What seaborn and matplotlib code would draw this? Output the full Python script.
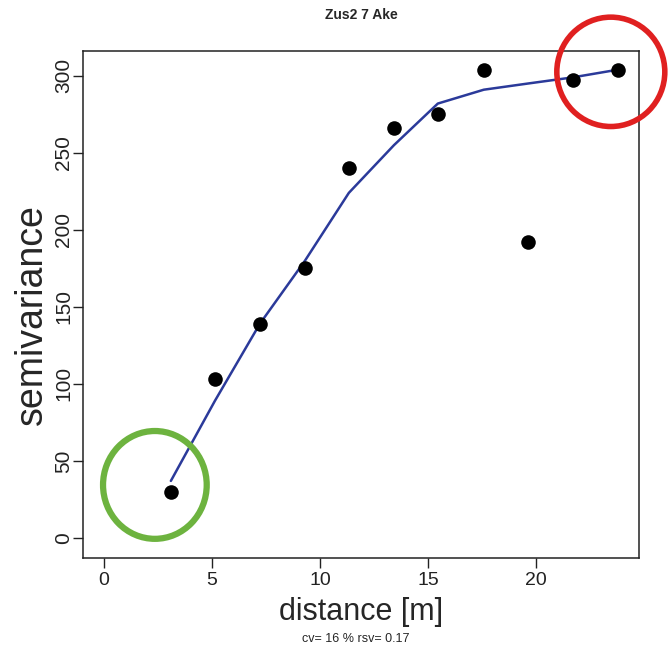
import matplotlib
matplotlib.use("Agg")
import matplotlib.pyplot as plt
from matplotlib.patches import Ellipse
import seaborn as sns
import pandas as pd

# lag distances (m) and empirical semivariance
distance = [3.1, 5.14, 7.22, 9.31, 11.34, 13.43, 15.46, 17.59, 19.63, 21.71, 23.8]
semivar = [29.5, 103, 139, 175, 240, 266, 275, 304, 192, 297, 304]
# fitted model at the same lags
model = [37, 89, 139, 180, 224, 255, 282, 291, 295, 299, 304]

x_ticks = [0, 5, 10, 15, 20]
y_ticks = [0, 50, 100, 150, 200, 250, 300]

sns.set_style("ticks")
plt.rcParams["font.family"] = ["Liberation Sans", "DejaVu Sans"]

df = pd.DataFrame({"distance": distance, "semivariance": semivar, "model": model})

fig = plt.figure(figsize=(6.69, 6.48), dpi=100)
ax = fig.add_axes([0.124, 0.139, 0.831, 0.782])

sns.lineplot(data=df, x="distance", y="model", ax=ax, color="#2b3a9a", lw=1.8, zorder=2)
sns.scatterplot(data=df, x="distance", y="semivariance", ax=ax, color="black",
                s=110, edgecolor="black", linewidth=0, zorder=3)

ax.set_xlim(-0.97, 24.77)
ax.set_ylim(-13, 316)
ax.set_xticks(x_ticks)
ax.set_yticks(y_ticks)
ax.set_xticklabels([str(v) for v in x_ticks], fontsize=14)
ax.set_yticklabels([str(v) for v in y_ticks], fontsize=15, rotation=90, va="center")
ax.tick_params(length=7, width=1, colors="#222222")
ax.tick_params(axis="y", pad=0)
ax.tick_params(axis="x", pad=3)
for s in ax.spines.values():
    s.set_visible(True)
    s.set_linewidth(1.1)
    s.set_color("#222222")

ax.set_xlabel("distance [m]", fontsize=22, labelpad=6)
ax.set_ylabel("semivariance", fontsize=27, va="center")
ax.yaxis.set_label_coords(-0.092, 0.48)
ax.set_title("Zus2 7 Ake", fontsize=10, fontweight="bold", pad=23)
fig.text(0.532, 0.005, "cv= 16 % rsv= 0.17", fontsize=9, ha="center", va="bottom")

# highlight circles
ax.add_patch(Ellipse((2.36, 34.4), 4.8, 70, fill=False, edgecolor="#6db33f", lw=4.5, clip_on=False, zorder=4))
ax.add_patch(Ellipse((23.47, 302.6), 5.0, 71, fill=False, edgecolor="#e02020", lw=4.0, clip_on=False, zorder=4))

fig.savefig("out.png", dpi=100)
